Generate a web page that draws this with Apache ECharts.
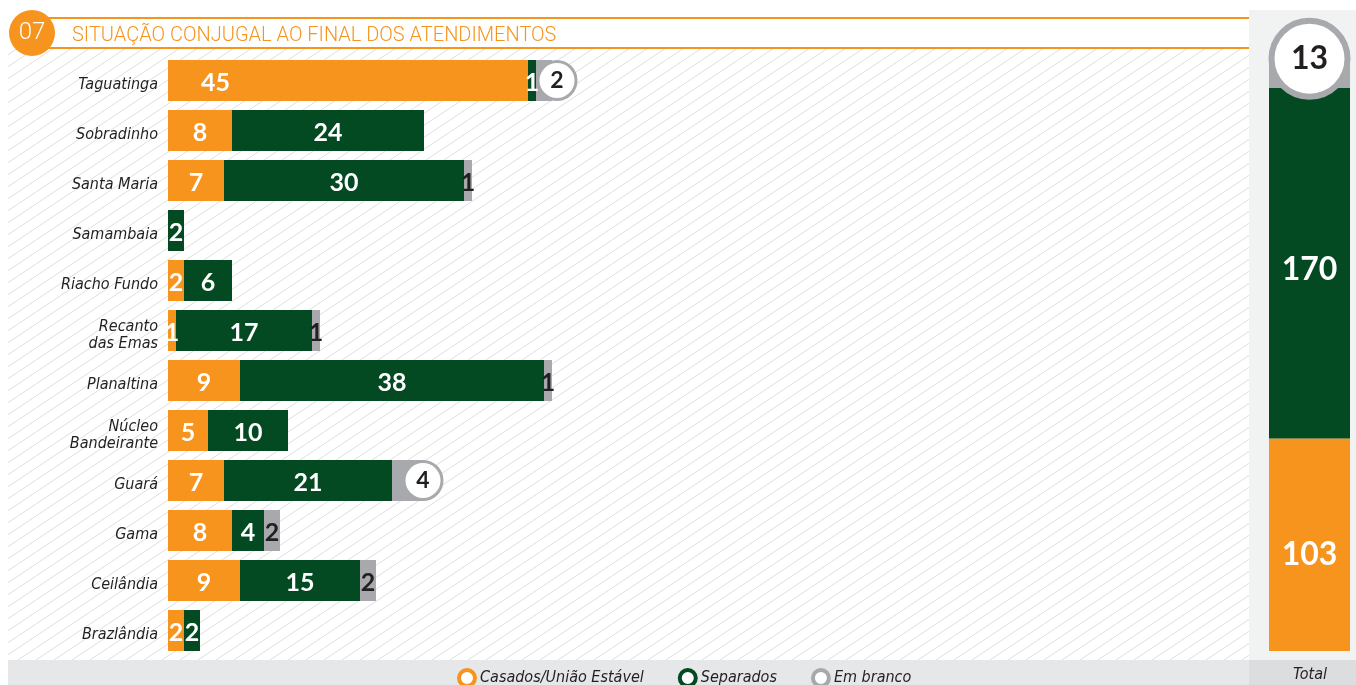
<!DOCTYPE html>
<html>
<head>
<meta charset="utf-8">
<script src="https://cdn.jsdelivr.net/npm/echarts@6/dist/echarts.min.js"></script>
<style>
html,body{margin:0;padding:0;background:#fff;}
#chart{width:1356px;height:685px;}
</style>
</head>
<body>
<div id="chart"></div>
<script>
// ---- DATA ----
const categories = ['Taguatinga', 'Sobradinho', 'Santa Maria', 'Samambaia', 'Riacho Fundo', 'Recanto\ndas Emas', 'Planaltina', 'Núcleo\nBandeirante', 'Guará', 'Gama', 'Ceilândia', 'Brazlândia'];
const casados   = [45, 8, 7, 0, 2, 1, 9, 5, 7, 8, 9, 2];
const separados = [1, 24, 30, 2, 6, 17, 38, 10, 21, 4, 15, 2];
const emBranco  = [2, 0, 1, 0, 0, 1, 1, 0, 4, 2, 2, 0];
const seriesNames = ['Casados/União Estável', 'Separados', 'Em branco'];
const totalLabel = ['Total'];
const titleText = 'SITUAÇÃO CONJUGAL AO FINAL DOS ATENDIMENTOS';
const chartNumber = '07';

// ---- STYLE ----
const ORANGE = '#f7941d', GREEN = '#034a22', GRAY = '#a7a9ac', DARK = '#231f20';
const labelFont = 'Lato, "Open Sans", sans-serif';
const catFont = '"Liberation Sans Narrow", "DejaVu Sans Condensed", "Open Sans", sans-serif';
const circleDist = { 0: 5, 8: -1 }; // gray values shown in a ring: index -> label distance

const sum = a => a.reduce((s, v) => s + v, 0);
const totC = sum(casados), totS = sum(separados), totB = sum(emBranco);

// stripe pattern
const PW = 18, PH = 12;
const pc = document.createElement('canvas');
pc.width = PW; pc.height = PH;
const g = pc.getContext('2d');
g.strokeStyle = '#dedede'; g.lineWidth = 1;
g.beginPath();
g.moveTo(0, PH); g.lineTo(PW, 0);
g.moveTo(-PW, PH); g.lineTo(0, 0);
g.moveTo(PW, PH); g.lineTo(2 * PW, 0);
g.stroke();

const hideZero = p => (p.value === 0 ? '' : String(p.value));
const baseLabel = (color) => ({
  show: true, position: 'inside', offset: [0, 2], color: color, fontFamily: labelFont,
  fontWeight: 'bold', fontSize: 25, formatter: hideZero
});

const casadosData = casados.map((v, i) => i === 0
  ? { value: v, label: { position: 'insideLeft', distance: 33 } } : v);
const brancoData = emBranco.map((v, i) => (i in circleDist)
  ? { value: v, label: {
      position: 'right', distance: circleDist[i], offset: [0, 0], color: DARK, fontSize: 23,
      backgroundColor: '#fff', borderColor: GRAY, borderWidth: 3,
      width: 35, height: 35, lineHeight: 37, borderRadius: 20, align: 'center', padding: 0
    } } : v);

const catStyle = { color: DARK, fontStyle: 'italic', fontSize: 16, fontFamily: catFont, lineHeight: 17 };

const chart = echarts.init(document.getElementById('chart'), null, { renderer: 'canvas' });
chart.setOption({
  backgroundColor: '#fff',
  animation: false,
  graphic: [
    { type: 'rect', z: -10, shape: { x: 8, y: 49, width: 1241, height: 611 }, style: { fill: { image: pc, repeat: 'repeat' } }, silent: true },
    { type: 'rect', z: -10, shape: { x: 1249, y: 10, width: 107, height: 650 }, style: { fill: '#f1f2f2' }, silent: true },
    { type: 'rect', z: -10, shape: { x: 8, y: 660, width: 1241, height: 25 }, style: { fill: '#e6e7e8' }, silent: true },
    { type: 'rect', z: -10, shape: { x: 1249, y: 660, width: 107, height: 25 }, style: { fill: '#dcddde' }, silent: true },
    { type: 'line', z: 5, shape: { x1: 40, y1: 18, x2: 1249, y2: 18 }, style: { stroke: ORANGE, lineWidth: 2 } },
    { type: 'line', z: 5, shape: { x1: 40, y1: 48, x2: 1249, y2: 48 }, style: { stroke: ORANGE, lineWidth: 2 } },
    { type: 'circle', z: 6, shape: { cx: 32, cy: 33, r: 23 }, style: { fill: ORANGE } },
    { type: 'text', z: 7, x: 32, y: 33, style: { text: chartNumber, fill: '#fff', font: '300 24px Roboto, sans-serif', textAlign: 'center', textVerticalAlign: 'middle' } },
    { type: 'text', z: 7, x: 72, y: 36, style: { text: titleText, fill: ORANGE, font: '300 20px Roboto, sans-serif', textVerticalAlign: 'middle' } },
    { type: 'text', z: 7, x: 1310, y: 675, style: { text: totalLabel[0], fill: DARK, font: 'italic 16px ' + catFont, textAlign: 'center', textVerticalAlign: 'middle' } }
  ],
  legend: {
    data: seriesNames.map((n, i) => ({
      name: n,
      itemStyle: { color: '#fff', borderColor: [ORANGE, GREEN, GRAY][i], borderWidth: 4 }
    })),
    left: 452, top: 663, icon: 'circle', itemWidth: 16, itemHeight: 16, itemGap: 34,
    textStyle: { color: DARK, fontStyle: 'italic', fontSize: 16, fontFamily: catFont },
    selectedMode: false
  },
  grid: [
    { left: 168, width: 1080, top: 55.5, height: 600 },
    { left: 1269, width: 81, top: 20, height: 631 }
  ],
  xAxis: [
    { gridIndex: 0, type: 'value', min: 0, max: 135, show: false },
    { gridIndex: 1, type: 'category', data: totalLabel, show: false }
  ],
  yAxis: [
    { gridIndex: 0, type: 'category', data: categories, inverse: true,
      axisLine: { show: false }, axisTick: { show: false }, splitLine: { show: false },
      axisLabel: Object.assign({}, catStyle, {
        margin: 10,
        formatter: v => v.split('\n').map(s => '{a|' + s + '}').join('\n'),
        rich: {
          a: Object.assign({}, catStyle, { padding: [9, 0, 0, 0] })
        }
      }) },
    { gridIndex: 1, type: 'value', min: 0, max: 306, show: false }
  ],
  series: [
    { name: seriesNames[0], type: 'bar', stack: 'a', xAxisIndex: 0, yAxisIndex: 0, barCategoryGap: '18%',
      itemStyle: { color: ORANGE }, label: baseLabel('#fff'), data: casadosData },
    { name: seriesNames[1], type: 'bar', stack: 'a', xAxisIndex: 0, yAxisIndex: 0, barCategoryGap: '18%',
      itemStyle: { color: GREEN }, label: baseLabel('#fff'), data: separados },
    { name: seriesNames[2], type: 'bar', stack: 'a', xAxisIndex: 0, yAxisIndex: 0, barCategoryGap: '18%',
      itemStyle: { color: GRAY }, label: baseLabel(DARK), data: brancoData },
    { name: 'tC', type: 'bar', stack: 't', xAxisIndex: 1, yAxisIndex: 1, barWidth: '100%',
      itemStyle: { color: ORANGE }, label: Object.assign(baseLabel('#fff'), { fontSize: 32, offset: [0, 10] }), data: [totC] },
    { name: 'tS', type: 'bar', stack: 't', xAxisIndex: 1, yAxisIndex: 1, barWidth: '100%',
      itemStyle: { color: GREEN }, label: Object.assign(baseLabel('#fff'), { fontSize: 32, offset: [0, 6] }), data: [totS] },
    { name: 'tB', type: 'bar', stack: 't', xAxisIndex: 1, yAxisIndex: 1, barWidth: '100%',
      itemStyle: { color: GRAY },
      label: { show: true, position: 'inside', offset: [0, -16], color: DARK, fontFamily: labelFont, fontWeight: 'bold', fontSize: 32,
        backgroundColor: '#fff', borderColor: GRAY, borderWidth: 6, width: 70, height: 70, lineHeight: 72,
        borderRadius: 40, align: 'center', padding: 0 },
      data: [totB] }
  ]
});
</script>
</body>
</html>
